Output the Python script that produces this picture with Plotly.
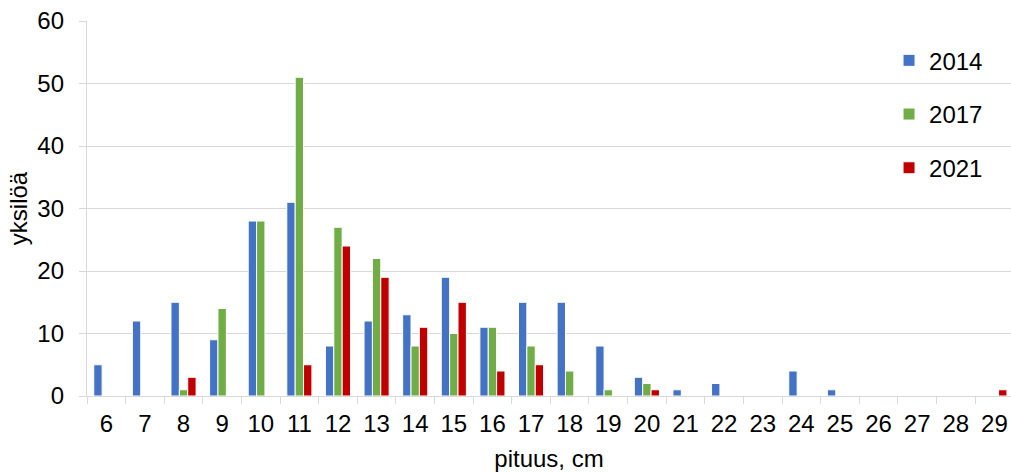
import plotly.graph_objects as go

categories = [str(c) for c in range(6, 30)]
v2014 = [5, 12, 15, 9, 28, 31, 8, 12, 13, 19, 11, 15, 15, 8, 3, 1, 2, 0, 4, 1, 0, 0, 0, 0]
v2017 = [0, 0, 1, 14, 28, 51, 27, 22, 8, 10, 11, 8, 4, 1, 2, 0, 0, 0, 0, 0, 0, 0, 0, 0]
v2021 = [0, 0, 3, 0, 0, 5, 24, 19, 11, 15, 4, 5, 0, 0, 1, 0, 0, 0, 0, 0, 0, 0, 0, 1]
series_names = ["2014", "2017", "2021"]
colors = ["#4472C4", "#70AD47", "#C00000"]

FONT = "Arial, Liberation Sans, sans-serif"
GRID = "#D9D9D9"
FS = 24

fig = go.Figure()
for name, vals, col in zip(series_names, [v2014, v2017, v2021], colors):
    fig.add_trace(go.Bar(
        x=categories, y=vals, name=name, legendgroup=name,
        marker=dict(color=col, line=dict(color="white", width=1)),
    ))

fig.update_layout(
    width=1011, height=472,
    margin=dict(l=87, r=0, t=21, b=76),
    paper_bgcolor="white", plot_bgcolor="white",
    barmode="group", bargap=0.35, bargroupgap=0.0,
    font=dict(family=FONT, size=FS, color="#000000"),
    legend=dict(
        x=0.868, xanchor="left", y=0.954, yanchor="top",
        font=dict(family=FONT, size=FS, color="#000000"),
        tracegroupgap=19.5, bgcolor="rgba(0,0,0,0)",
    ),
    xaxis=dict(
        type="category", range=[-0.5, 23.43], automargin=False,
        showline=True, linecolor=GRID, linewidth=1.3,
        ticks="outside", tickson="boundaries", ticklen=7, tickcolor=GRID, tickwidth=1.3,
        showgrid=False, ticklabelstandoff=6,
        tickfont=dict(family=FONT, size=FS, color="#000000"),
        title=dict(text="pituus, cm", font=dict(family=FONT, size=FS, color="#000000"), standoff=16),
    ),
    yaxis=dict(
        range=[0, 60], dtick=10, tick0=0, automargin=False,
        showline=True, linecolor=GRID, linewidth=1.3,
        showgrid=True, gridcolor=GRID, gridwidth=1.3,
        ticks="outside", ticklen=7, tickcolor=GRID, tickwidth=1.3,
        ticklabelstandoff=10, zeroline=False,
        tickfont=dict(family=FONT, size=FS, color="#000000"),
        title=dict(text="yksilöä", font=dict(family=FONT, size=FS, color="#000000"), standoff=2),
    ),
)

fig.write_html(
    "out.html",
    config={"displayModeBar": False},
    post_script="document.body.style.margin='0';document.body.style.overflow='hidden';",
)
